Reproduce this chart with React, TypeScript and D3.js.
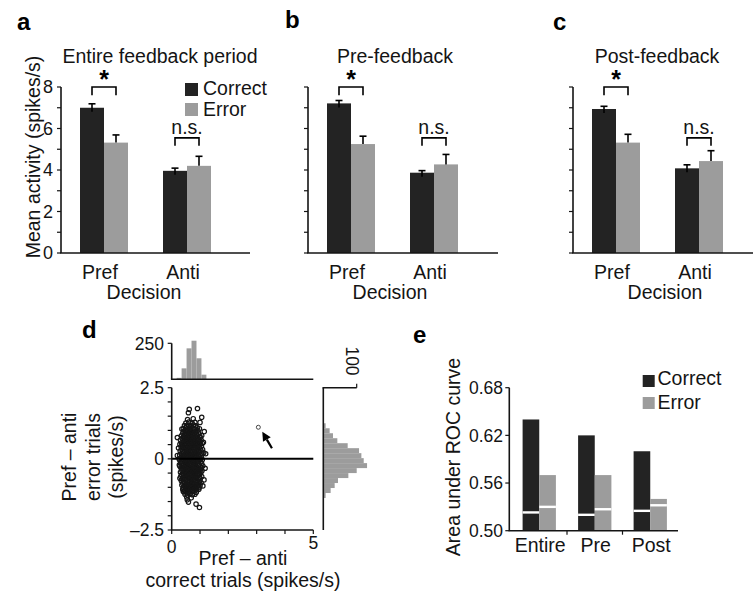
import React from 'react';
import * as d3 from 'd3';

const FONT = "'Liberation Sans', Arial, Helvetica, sans-serif";
const DARK = '#232323';
const GREY = '#9c9c9c';
const INK = '#141414';

// ---------- panels a-c ----------
const decisions = ['Pref', 'Anti'];
const outcomes = ['Correct', 'Error'];
const activityTicks = [0, 1, 2, 3, 4, 5, 6, 7, 8];
const activityTickLabels = [0, 2, 4, 6, 8];
// order: Pref-Correct, Pref-Error, Anti-Correct, Anti-Error
const entireMean = [7.0, 5.32, 3.96, 4.2];
const entireSE = [0.19, 0.37, 0.13, 0.46];
const preMean = [7.21, 5.25, 3.87, 4.27];
const preSE = [0.14, 0.38, 0.1, 0.48];
const postMean = [6.94, 5.32, 4.08, 4.43];
const postSE = [0.13, 0.4, 0.17, 0.5];
const sigLabels = ['*', 'n.s.'];
const bracketTop = [8.0, 5.55];
const bracketBottom = [7.6, 5.17];

// ---------- panel d ----------
const topHistX0 = [0.175, 0.35, 0.525, 0.7, 0.875, 1.05];
const topHistCounts = [10, 76, 215, 268, 146, 32];
const rightHistY0 = [1.075, 0.9, 0.725, 0.55, 0.375, 0.2, 0.025, -0.15, -0.325, -0.5, -0.675, -0.85, -1.025, -1.2, -1.375];
const rightHistCounts = [7, 19, 29, 42, 73, 107, 114, 121, 131, 100, 75, 44, 34, 22, 7];
const histBinWidth = 0.175;
const scatterXTicks = [0, 1, 2, 3, 4, 5];
const scatterYTicks = [-2.5, -2, -1.5, -1, -0.5, 0, 0.5, 1, 1.5, 2, 2.5];
const outlierPoint: [number, number] = [3.06, 1.11];
const arrowFrom: [number, number] = [3.54, 0.37];
const arrowTo: [number, number] = [3.2, 0.95];
const scatterPoints: [number, number][] = [
  [0.62, 1.74], [0.59, 1.62], [0.91, 1.77], [1.06, 1.46], [0.2, 0.75], [1.15, 0.96], [1.12, 0.58], [0.2, 0.12],
  [0.29, -0.68], [0.41, -1.15], [0.55, -1.44], [0.59, -1.52], [0.86, -1.59], [0.98, -1.71], [1.14, -0.74],
  [1.18, -0.33], [0.24, 0.38], [1.2, 0.18], [0.27, -0.22], [1.1, -0.95], [0.36, 1.05], [1.0, 1.28],
  [0.56, 1.38], [0.76, 1.41],
  [0.5, 1.26], [0.6, 1.29], [0.72, 1.25], [0.82, 1.28],
  [0.45, 1.17], [0.53, 1.14], [0.61, 1.18], [0.69, 1.15], [0.77, 1.19], [0.85, 1.16],
  [0.41, 1.06], [0.48, 1.09], [0.55, 1.05], [0.62, 1.08], [0.68, 1.04], [0.75, 1.07], [0.82, 1.05], [0.9, 1.09], [0.98, 1.06],
  [0.43, 0.97], [0.5, 1.0], [0.57, 0.96], [0.64, 0.99], [0.7, 0.95], [0.77, 0.98], [0.84, 0.96], [0.92, 1.0],
  [0.39, 0.9], [0.46, 0.86], [0.53, 0.89], [0.6, 0.87], [0.66, 0.91], [0.73, 0.86], [0.8, 0.89], [0.87, 0.87], [0.95, 0.9],
  [0.34, 0.81], [0.42, 0.79], [0.49, 0.82], [0.56, 0.78], [0.63, 0.81], [0.7, 0.8], [0.76, 0.83], [0.83, 0.78], [0.9, 0.81], [0.99, 0.79], [1.06, 0.82],
  [0.37, 0.72], [0.44, 0.75], [0.51, 0.71], [0.58, 0.74], [0.64, 0.72], [0.71, 0.75], [0.78, 0.71], [0.85, 0.74], [0.92, 0.72], [1.01, 0.75],
  [0.31, 0.66], [0.4, 0.64], [0.47, 0.67], [0.54, 0.63], [0.61, 0.66], [0.67, 0.64], [0.74, 0.67], [0.81, 0.63], [0.88, 0.66], [0.95, 0.64], [1.04, 0.66],
  [0.35, 0.56], [0.43, 0.59], [0.5, 0.55], [0.57, 0.58], [0.64, 0.56], [0.7, 0.59], [0.77, 0.55], [0.84, 0.58], [0.91, 0.56], [0.99, 0.58], [1.08, 0.55],
  [0.29, 0.51], [0.38, 0.49], [0.45, 0.52], [0.52, 0.48], [0.59, 0.51], [0.66, 0.49], [0.72, 0.52], [0.79, 0.48], [0.86, 0.51], [0.93, 0.49], [1.02, 0.52],
  [0.33, 0.43], [0.41, 0.41], [0.48, 0.44], [0.55, 0.4], [0.62, 0.43], [0.68, 0.41], [0.75, 0.44], [0.82, 0.4], [0.89, 0.43], [0.96, 0.41], [1.05, 0.44],
  [0.36, 0.34], [0.43, 0.37], [0.5, 0.33], [0.57, 0.36], [0.64, 0.34], [0.71, 0.37], [0.78, 0.33], [0.85, 0.36], [0.92, 0.34], [1.0, 0.36], [1.09, 0.33],
  [0.3, 0.28], [0.39, 0.26], [0.46, 0.29], [0.53, 0.25], [0.6, 0.28], [0.67, 0.26], [0.74, 0.29], [0.81, 0.25], [0.88, 0.28], [0.95, 0.26], [1.03, 0.29],
  [0.34, 0.19], [0.42, 0.22], [0.49, 0.18], [0.56, 0.21], [0.63, 0.19], [0.7, 0.22], [0.77, 0.18], [0.84, 0.21], [0.91, 0.19], [0.98, 0.22], [1.07, 0.19], [1.13, 0.21],
  [0.28, 0.13], [0.37, 0.11], [0.44, 0.14], [0.51, 0.1], [0.58, 0.13], [0.65, 0.11], [0.72, 0.14], [0.79, 0.1], [0.86, 0.13], [0.93, 0.11], [1.01, 0.14],
  [0.32, 0.04], [0.4, 0.07], [0.47, 0.03], [0.54, 0.06], [0.61, 0.04], [0.68, 0.07], [0.75, 0.03], [0.82, 0.06], [0.89, 0.04], [0.96, 0.07], [1.05, 0.04],
  [0.27, -0.02], [0.35, -0.04], [0.42, -0.01], [0.49, -0.05], [0.56, -0.02], [0.63, -0.04], [0.7, -0.01], [0.77, -0.05], [0.84, -0.02], [0.91, -0.04], [0.99, -0.01], [1.08, -0.03],
  [0.31, -0.11], [0.39, -0.08], [0.46, -0.12], [0.53, -0.09], [0.6, -0.11], [0.67, -0.08], [0.74, -0.12], [0.81, -0.09], [0.88, -0.11], [0.95, -0.08], [1.03, -0.11],
  [0.34, -0.17], [0.41, -0.2], [0.48, -0.16], [0.55, -0.19], [0.62, -0.17], [0.69, -0.2], [0.76, -0.16], [0.83, -0.19], [0.9, -0.17], [0.97, -0.2], [1.06, -0.17],
  [0.29, -0.26], [0.37, -0.24], [0.44, -0.27], [0.51, -0.23], [0.58, -0.26], [0.65, -0.24], [0.72, -0.27], [0.79, -0.23], [0.86, -0.26], [0.93, -0.24], [1.01, -0.27], [1.1, -0.25],
  [0.33, -0.32], [0.4, -0.35], [0.47, -0.31], [0.54, -0.34], [0.61, -0.32], [0.68, -0.35], [0.75, -0.31], [0.82, -0.34], [0.89, -0.32], [0.96, -0.35], [1.04, -0.32],
  [0.36, -0.41], [0.43, -0.39], [0.5, -0.42], [0.57, -0.38], [0.64, -0.41], [0.71, -0.39], [0.78, -0.42], [0.85, -0.38], [0.92, -0.41], [1.0, -0.39], [1.07, -0.42],
  [0.31, -0.47], [0.39, -0.5], [0.46, -0.46], [0.53, -0.49], [0.6, -0.47], [0.67, -0.5], [0.74, -0.46], [0.81, -0.49], [0.88, -0.47], [0.95, -0.5], [1.03, -0.47],
  [0.35, -0.56], [0.42, -0.54], [0.49, -0.57], [0.56, -0.53], [0.63, -0.56], [0.7, -0.54], [0.77, -0.57], [0.84, -0.53], [0.91, -0.56], [0.99, -0.54],
  [0.32, -0.62], [0.4, -0.65], [0.47, -0.61], [0.54, -0.64], [0.61, -0.62], [0.68, -0.65], [0.75, -0.61], [0.82, -0.64], [0.89, -0.62], [0.97, -0.65], [1.06, -0.62],
  [0.37, -0.71], [0.44, -0.69], [0.51, -0.72], [0.58, -0.68], [0.65, -0.71], [0.72, -0.69], [0.79, -0.72], [0.86, -0.68], [0.93, -0.71], [1.01, -0.69],
  [0.34, -0.77], [0.42, -0.8], [0.49, -0.76], [0.56, -0.79], [0.63, -0.77], [0.7, -0.8], [0.77, -0.76], [0.84, -0.79], [0.91, -0.77], [0.98, -0.8],
  [0.39, -0.86], [0.46, -0.84], [0.53, -0.87], [0.6, -0.83], [0.67, -0.86], [0.74, -0.84], [0.81, -0.87], [0.88, -0.83], [0.95, -0.86], [1.04, -0.84],
  [0.36, -0.92], [0.44, -0.95], [0.51, -0.91], [0.58, -0.94], [0.65, -0.92], [0.72, -0.95], [0.79, -0.91], [0.86, -0.94], [0.93, -0.92], [1.0, -0.95],
  [0.41, -1.01], [0.48, -0.99], [0.55, -1.02], [0.62, -0.98], [0.69, -1.01], [0.76, -0.99], [0.83, -1.02], [0.9, -0.98], [0.97, -1.01],
  [0.39, -1.07], [0.46, -1.1], [0.53, -1.06], [0.6, -1.09], [0.67, -1.07], [0.74, -1.1], [0.81, -1.06], [0.88, -1.09], [0.96, -1.07],
  [0.44, -1.16], [0.51, -1.14], [0.58, -1.17], [0.65, -1.13], [0.72, -1.16], [0.79, -1.14], [0.87, -1.17],
  [0.47, -1.24], [0.56, -1.27], [0.64, -1.23], [0.73, -1.26], [0.82, -1.24],
  [0.53, -1.34], [0.69, -1.37],
];

// ---------- panel e ----------
const rocGroups = ['Entire', 'Pre', 'Post'];
const rocCorrect = [0.64, 0.62, 0.6];
const rocError = [0.57, 0.57, 0.54];
const rocCorrectChance = [0.523, 0.52, 0.525];
const rocErrorChance = [0.53, 0.527, 0.532];
const rocTicks = [0.5, 0.56, 0.62, 0.68];

const barPanels = [
  { key: 'a', title: 'Entire feedback period', mean: entireMean, se: entireSE, axisX: 61, axisEnd: 250, titleX: 160, letterX: 17, letterY: 30, decisionX: 144, labels: true, legend: true },
  { key: 'b', title: 'Pre-feedback', mean: preMean, se: preSE, axisX: 308, axisEnd: 498, titleX: 395, letterX: 285, letterY: 28, decisionX: 390, labels: false, legend: false },
  { key: 'c', title: 'Post-feedback', mean: postMean, se: postSE, axisX: 573, axisEnd: 753, titleX: 657, letterX: 553, letterY: 30, decisionX: 665, labels: false, legend: false },
];

const WORD = 19.5;
const NUM = 17.5;

function BarPanel({ cfg }: { cfg: any }) {
  const y = d3.scaleLinear().domain([0, 8]).range([253, 87]);
  const x0 = d3.scaleBand().domain(decisions).range([cfg.axisX + 19, cfg.axisX + 150]).paddingInner(35 / 83);
  const x1 = d3.scaleBand().domain(outcomes).range([0, x0.bandwidth()]);
  const color = (o: string) => (o === 'Correct' ? DARK : GREY);
  return (
    <g>
      <text x={cfg.letterX} y={cfg.letterY} fontSize={24} fontWeight="bold" fill="#000">{cfg.key}</text>
      <text x={cfg.titleX} y={63} fontSize={WORD} textAnchor="middle" fill={INK}>{cfg.title}</text>
      {decisions.map((d, di) =>
        outcomes.map((o, oi) => {
          const v = cfg.mean[di * 2 + oi];
          const s = cfg.se[di * 2 + oi];
          const bx = (x0(d) as number) + (x1(o) as number);
          const cx = bx + x1.bandwidth() / 2;
          return (
            <g key={d + o}>
              <rect x={bx} y={y(v)} width={x1.bandwidth()} height={y(0) - y(v)} fill={color(o)} />
              <line x1={cx} x2={cx} y1={y(v) + (o === 'Correct' ? 4 : 0)} y2={y(v + s)} stroke="#000" strokeWidth={1.6} />
              <line x1={cx - 3.5} x2={cx + 3.5} y1={y(v + s)} y2={y(v + s)} stroke="#000" strokeWidth={1.6} />
            </g>
          );
        })
      )}
      {decisions.map((d, di) => {
        const xa = (x0(d) as number) + (x1('Correct') as number) + x1.bandwidth() / 2;
        const xb = (x0(d) as number) + (x1('Error') as number) + x1.bandwidth() / 2;
        const yt = y(bracketTop[di]);
        const yb = y(bracketBottom[di]);
        return (
          <g key={'br' + d}>
            <path d={`M${xa},${yb}V${yt}H${xb}V${yb}`} fill="none" stroke="#000" strokeWidth={1.6} />
            {sigLabels[di] === '*' ? (
              <text x={(xa + xb) / 2} y={yt + 1} fontSize={25} fontWeight="bold" textAnchor="middle" fill="#000">*</text>
            ) : (
              <text x={(xa + xb) / 2} y={yt - 4} fontSize={WORD} textAnchor="middle" fill={INK}>{sigLabels[di]}</text>
            )}
          </g>
        );
      })}
      <line x1={cfg.axisX} x2={cfg.axisX} y1={y(0)} y2={y(8)} stroke={INK} strokeWidth={1.6} />
      <line x1={cfg.axisX - 0.8} x2={cfg.axisEnd} y1={y(0)} y2={y(0)} stroke={INK} strokeWidth={1.6} />
      {activityTicks.map((t) => (
        <line key={t} x1={cfg.axisX - 4} x2={cfg.axisX} y1={y(t)} y2={y(t)} stroke={INK} strokeWidth={1.2} />
      ))}
      {cfg.labels &&
        activityTickLabels.map((t) => (
          <text key={'l' + t} x={cfg.axisX - 8} y={y(t)} dy="0.36em" fontSize={NUM + 0.5} textAnchor="end" fill={INK}>{t}</text>
        ))}
      {decisions.map((d) => (
        <text key={'x' + d} x={(x0(d) as number) + x0.bandwidth() / 2 - 4} y={279} fontSize={WORD} textAnchor="middle" fill={INK}>{d}</text>
      ))}
      <text x={cfg.decisionX} y={299} fontSize={WORD} textAnchor="middle" fill={INK}>Decision</text>
      {cfg.legend &&
        outcomes.map((o, i) => (
          <g key={'lg' + o}>
            <rect x={185} y={83 + i * 20} width={13} height={13} fill={color(o)} />
            <text x={203} y={95 + i * 21} fontSize={WORD} fill={INK}>{o}</text>
          </g>
        ))}
    </g>
  );
}

function PanelD() {
  const x = d3.scaleLinear().domain([0, 5]).range([171.7, 313.3]);
  const y = d3.scaleLinear().domain([-2.5, 2.5]).range([530, 387.7]);
  const ty = d3.scaleLinear().domain([0, 250]).range([379.3, 343.3]);
  const rx = d3.scaleLinear().domain([0, 100]).range([323.3, 356.7]);
  const headAngle = Math.atan2(y(arrowTo[1]) - y(arrowFrom[1]), x(arrowTo[0]) - x(arrowFrom[0]));
  const hx = x(arrowTo[0]);
  const hy = y(arrowTo[1]);
  const hl = 9;
  const hw = 4.5;
  const bx = hx - hl * Math.cos(headAngle);
  const by = hy - hl * Math.sin(headAngle);
  const px = -Math.sin(headAngle) * hw;
  const py = Math.cos(headAngle) * hw;
  return (
    <g>
      <text x={82} y={338} fontSize={24} fontWeight="bold" fill="#000">d</text>
      {/* top histogram */}
      {topHistX0.map((x0, i) => (
        <rect key={'th' + i} x={x(x0)} y={ty(topHistCounts[i])} width={x(x0 + histBinWidth) - x(x0)} height={ty(0) - ty(topHistCounts[i])} fill={GREY} />
      ))}
      <line x1={x(0)} x2={x(0)} y1={ty(0)} y2={ty(250)} stroke={INK} strokeWidth={1.6} />
      <line x1={x(0) - 0.8} x2={x(5)} y1={ty(0)} y2={ty(0)} stroke={INK} strokeWidth={1.6} />
      <line x1={x(0) - 4} x2={x(0)} y1={ty(250)} y2={ty(250)} stroke={INK} strokeWidth={1.2} />
      <text x={164} y={ty(250)} dy="0.36em" fontSize={NUM} textAnchor="end" fill={INK}>250</text>
      {/* right histogram */}
      {rightHistY0.map((y0, i) => (
        <rect key={'rh' + i} x={rx(0)} y={y(y0 + histBinWidth)} width={rx(rightHistCounts[i]) - rx(0)} height={y(y0) - y(y0 + histBinWidth)} fill={GREY} />
      ))}
      <line x1={rx(0)} x2={rx(0)} y1={y(-2.5)} y2={y(2.5)} stroke={INK} strokeWidth={1.6} />
      <line x1={rx(0) - 0.8} x2={rx(100)} y1={y(2.5)} y2={y(2.5)} stroke={INK} strokeWidth={1.6} />
      <line x1={rx(100)} x2={rx(100)} y1={y(2.5)} y2={y(2.5) - 4} stroke={INK} strokeWidth={1.2} />
      <text transform={`translate(${345.5},${361}) rotate(90)`} fontSize={NUM} textAnchor="middle" fill={INK}>100</text>
      {/* scatter */}
      {scatterPoints.map((p, i) => (
        <circle key={'s' + i} cx={x(p[0])} cy={y(p[1])} r={2.2} fill="none" stroke="#161616" strokeWidth={1.2} />
      ))}
      <circle cx={x(outlierPoint[0])} cy={y(outlierPoint[1])} r={2} fill="none" stroke="#333" strokeWidth={0.9} />
      <line x1={x(0)} x2={x(5)} y1={y(0)} y2={y(0)} stroke="#000" strokeWidth={2} />
      <line x1={x(arrowFrom[0])} y1={y(arrowFrom[1])} x2={bx} y2={by} stroke="#000" strokeWidth={2.2} />
      <path d={`M${hx},${hy}L${bx + px},${by + py}L${bx - px},${by - py}Z`} fill="#000" />
      {/* axes */}
      <line x1={x(0)} x2={x(0)} y1={y(-2.5)} y2={y(2.5)} stroke={INK} strokeWidth={1.6} />
      <line x1={x(0) - 0.8} x2={x(5)} y1={y(-2.5)} y2={y(-2.5)} stroke={INK} strokeWidth={1.6} />
      {scatterYTicks.map((t) => (
        <line key={'yt' + t} x1={x(0) - 4} x2={x(0)} y1={y(t)} y2={y(t)} stroke={INK} strokeWidth={1.2} />
      ))}
      {scatterXTicks.map((t) => (
        <line key={'xt' + t} x1={x(t)} x2={x(t)} y1={y(-2.5)} y2={y(-2.5) + 4} stroke={INK} strokeWidth={1.2} />
      ))}
      <text x={164} y={y(2.5)} dy="0.36em" fontSize={NUM} textAnchor="end" fill={INK}>2.5</text>
      <text x={164} y={y(0)} dy="0.36em" fontSize={NUM} textAnchor="end" fill={INK}>0</text>
      <text x={164} y={y(-2.5)} dy="0.36em" fontSize={NUM} textAnchor="end" fill={INK}>–2.5</text>
      <text x={x(0)} y={553} fontSize={NUM} textAnchor="middle" fill={INK}>0</text>
      <text x={x(5)} y={549} fontSize={NUM} textAnchor="middle" fill={INK}>5</text>
      <text x={243} y={565} fontSize={WORD} textAnchor="middle" fill={INK}>Pref – anti</text>
      <text x={243} y={587} fontSize={WORD} textAnchor="middle" fill={INK}>correct trials (spikes/s)</text>
      <text transform="translate(76,457) rotate(-90)" fontSize={WORD} textAnchor="middle" fill={INK}>Pref – anti</text>
      <text transform="translate(100,457) rotate(-90)" fontSize={WORD} textAnchor="middle" fill={INK}>error trials</text>
      <text transform="translate(123,457) rotate(-90)" fontSize={WORD} textAnchor="middle" fill={INK}>(spikes/s)</text>
    </g>
  );
}

function PanelE() {
  const x0 = d3.scaleBand().domain(rocGroups).range([511.5, 678]);
  const x1 = d3.scaleBand().domain(outcomes).range([0.2 * x0.bandwidth(), 0.8 * x0.bandwidth()]);
  const y = d3.scaleLinear().domain([0.5, 0.68]).range([530.7, 387.7]);
  const vals = (o: string) => (o === 'Correct' ? rocCorrect : rocError);
  const chance = (o: string) => (o === 'Correct' ? rocCorrectChance : rocErrorChance);
  return (
    <g>
      <text x={413} y={343} fontSize={24} fontWeight="bold" fill="#000">e</text>
      {rocGroups.map((g, gi) =>
        outcomes.map((o) => {
          const bx = (x0(g) as number) + (x1(o) as number);
          const v = vals(o)[gi];
          const c = chance(o)[gi];
          return (
            <g key={g + o}>
              <rect x={bx} y={y(v)} width={x1.bandwidth()} height={y(0.5) - y(v)} fill={o === 'Correct' ? DARK : GREY} />
              <line x1={bx} x2={bx + x1.bandwidth()} y1={y(c)} y2={y(c)} stroke="#fff" strokeWidth={2.4} />
            </g>
          );
        })
      )}
      <line x1={509.3} x2={509.3} y1={y(0.5)} y2={y(0.68)} stroke={INK} strokeWidth={1.6} />
      <line x1={508.5} x2={678} y1={y(0.5)} y2={y(0.5)} stroke={INK} strokeWidth={1.6} />
      {rocTicks.map((t) => (
        <g key={'rt' + t}>
          <line x1={505.3} x2={509.3} y1={y(t)} y2={y(t)} stroke={INK} strokeWidth={1.2} />
          <text x={503} y={y(t)} dy="0.36em" fontSize={NUM} textAnchor="end" fill={INK}>{t.toFixed(2)}</text>
        </g>
      ))}
      {rocGroups.slice(1).map((g) => (
        <line key={'bt' + g} x1={x0(g) as number} x2={x0(g) as number} y1={y(0.5)} y2={y(0.5) + 4} stroke={INK} strokeWidth={1.2} />
      ))}
      {rocGroups.map((g) => (
        <text key={'gl' + g} x={(x0(g) as number) + x0.bandwidth() / 2 + 1} y={552} fontSize={WORD} textAnchor="middle" fill={INK}>{g}</text>
      ))}
      <text transform="translate(460,457) rotate(-90)" fontSize={WORD} textAnchor="middle" fill={INK}>Area under ROC curve</text>
      {outcomes.map((o, i) => (
        <g key={'le' + o}>
          <rect x={642.7} y={375 + i * 22} width={12} height={12} fill={o === 'Correct' ? DARK : GREY} />
          <text x={657.5} y={385 + i * 24} fontSize={WORD} fill={INK}>{o}</text>
        </g>
      ))}
    </g>
  );
}

export default function App() {
  return (
    <svg width={753} height={595} style={{ position: 'absolute', left: 0, top: 0, background: '#fff' }} fontFamily={FONT}>
      <rect width={753} height={595} fill="#fff" />
      {barPanels.map((cfg) => (
        <BarPanel key={cfg.key} cfg={cfg} />
      ))}
      <text transform="translate(40,157) rotate(-90)" fontSize={WORD} textAnchor="middle" fill={INK}>Mean activity (spikes/s)</text>
      <PanelD />
      <PanelE />
    </svg>
  );
}
